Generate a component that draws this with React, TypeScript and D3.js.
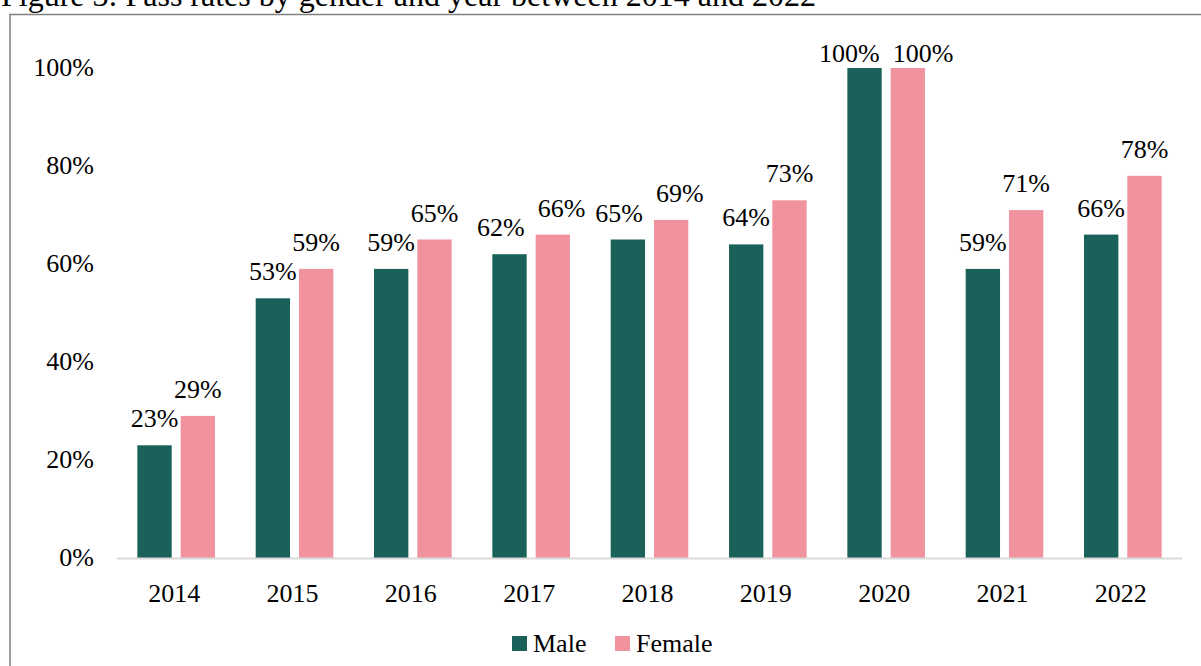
import React, { useRef, useEffect } from "react";
import * as d3 from "d3";

const years = ["2014", "2015", "2016", "2017", "2018", "2019", "2020", "2021", "2022"];
const maleRates = [23, 53, 59, 62, 65, 64, 100, 59, 66];
const femaleRates = [29, 59, 65, 66, 69, 73, 100, 71, 78];
const yTicks = [0, 20, 40, 60, 80, 100];
const seriesNames = ["Male", "Female"];
const seriesColors = ["#1a6259", "#f0939e"];
const title = "Figure 3: Pass rates by gender and year between 2014 and 2022";

const width = 1201;
const height = 666;
const font = "'Liberation Serif', 'Times New Roman', serif";
const fs = 26;

const App = () => {
  const wrapper = useRef<SVGSVGElement | null>(null);

  useEffect(() => {
    const svg = d3.select(wrapper.current);
    svg.selectAll("*").remove();

    const x0 = d3.scaleBand().domain(years).range([117, 1182]).paddingInner(0.344).paddingOuter(0.172);
    const x1 = d3.scaleBand().domain(seriesNames).range([0, x0.bandwidth()]).paddingInner(0.207);
    const y = d3.scaleLinear().domain([0, 100]).range([558, 68]);

    // title (cropped at the top in the source)
    svg
      .append("text")
      .attr("x", 1)
      .attr("y", 6)
      .attr("font-family", font)
      .attr("font-size", 32)
      .attr("fill", "#000")
      .text(title);

    // frame
    svg
      .append("rect")
      .attr("x", 10)
      .attr("y", 14.5)
      .attr("width", 1210)
      .attr("height", 700)
      .attr("fill", "none")
      .attr("stroke", "#7f7f7f")
      .attr("stroke-width", 1.5);

    // y tick labels
    svg
      .selectAll(".ytick")
      .data(yTicks)
      .enter()
      .append("text")
      .attr("x", 94)
      .attr("y", (d) => y(d) + 8)
      .attr("text-anchor", "end")
      .attr("font-family", font)
      .attr("font-size", fs)
      .attr("fill", "#000")
      .text((d) => `${d}%`);

    const rows = years.map((yr, i) => ({ year: yr, values: [maleRates[i], femaleRates[i]] }));

    const groups = svg
      .selectAll(".grp")
      .data(rows)
      .enter()
      .append("g")
      .attr("transform", (d) => `translate(${x0(d.year)},0)`);

    groups
      .selectAll("rect")
      .data((d) => d.values.map((v, j) => ({ key: seriesNames[j], value: v, idx: j })))
      .enter()
      .append("rect")
      .attr("x", (d) => x1(d.key)!)
      .attr("y", (d) => y(d.value))
      .attr("width", x1.bandwidth())
      .attr("height", (d) => y(0) - y(d.value))
      .attr("fill", (d) => seriesColors[d.idx]);

    groups.each(function (row) {
      const g = d3.select(this);
      const labels = row.values.map((v, j) =>
        g
          .append("text")
          .attr("x", x1(seriesNames[j])! + x1.bandwidth() / 2)
          .attr("y", Math.max(y(v) - 18, 62))
          .attr("text-anchor", "middle")
          .attr("font-family", font)
          .attr("font-size", fs)
          .attr("fill", "#000")
          .text(`${v}%`)
      );
      // push apart labels that collide (same height, overlapping)
      const [a, b] = labels;
      const ya = +a.attr("y");
      const yb = +b.attr("y");
      if (Math.abs(ya - yb) < fs) {
        const wa = (a.node() as SVGTextElement).getComputedTextLength();
        const wb = (b.node() as SVGTextElement).getComputedTextLength();
        const xa = +a.attr("x");
        const xb = +b.attr("x");
        const need = wa / 2 + wb / 2 + 13;
        if (xb - xa < need) {
          const shift = (need - (xb - xa)) / 2;
          a.attr("x", xa - shift);
          b.attr("x", xb + shift);
        }
      }
    });

    // x axis line
    svg
      .append("line")
      .attr("x1", 117)
      .attr("x2", 1182)
      .attr("y1", y(0) + 0.5)
      .attr("y2", y(0) + 0.5)
      .attr("stroke", "#d9d9d9")
      .attr("stroke-width", 2);

    // category labels
    svg
      .selectAll(".xlbl")
      .data(years)
      .enter()
      .append("text")
      .attr("x", (d) => x0(d)! + x0.bandwidth() / 2 - 2)
      .attr("y", 602)
      .attr("text-anchor", "middle")
      .attr("font-family", font)
      .attr("font-size", fs)
      .attr("fill", "#000")
      .text((d) => d);

    // legend
    const legendX = [512, 615];
    seriesNames.forEach((name, i) => {
      svg
        .append("rect")
        .attr("x", legendX[i])
        .attr("y", 636)
        .attr("width", 15)
        .attr("height", 15)
        .attr("fill", seriesColors[i]);
      svg
        .append("text")
        .attr("x", legendX[i] + 21)
        .attr("y", 652)
        .attr("font-family", font)
        .attr("font-size", fs)
        .attr("fill", "#000")
        .text(name);
    });
  }, []);

  return (
    <svg
      ref={wrapper}
      width={width}
      height={height}
      style={{ position: "absolute", left: 0, top: 0, display: "block", background: "#fff" }}
    />
  );
};

export default App;
